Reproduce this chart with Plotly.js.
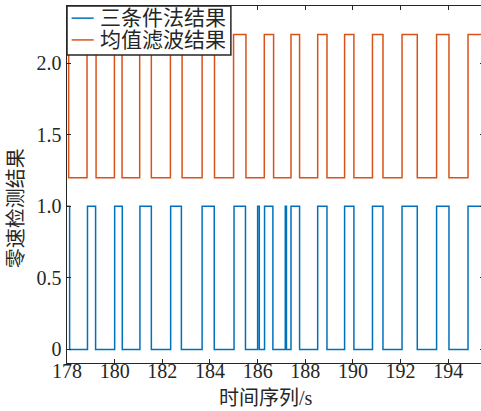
<!DOCTYPE html>
<html><head><meta charset="utf-8">
<script src="https://cdn.plot.ly/plotly-3.0.1.min.js"></script>
<style>html,body{margin:0;padding:0;overflow:hidden;background:#fff}</style>
</head><body><div id="chart" style="width:484px;height:411px"></div>
<script>
const seriesNames = ['三条件法结果', '均值滤波结果'];
const xTitle = '时间序列/s';
const yTitle = '零速检测结果';

const threeCondTime = [178, 178.11, 178.86, 179.20, 180.00, 180.32, 181.06, 181.54, 182.35, 182.80,
  183.67, 184.18, 185.01, 185.49, 186.00, 186.07, 186.29, 186.64, 187.16, 187.21,
  187.40, 187.76, 188.52, 188.91, 189.65, 190.04, 190.82, 191.26, 192.06, 192.70,
  193.51, 194.03, 194.83, 195.5];
const threeCondValue = [1, 0, 1, 0, 1, 0, 1, 0, 1, 0,
  1, 0, 1, 0, 1, 0, 1, 0, 1, 0,
  1, 0, 1, 0, 1, 0, 1, 0, 1, 0,
  1, 0, 1, 1];

const meanFilterTime = [178, 178.07, 178.84, 179.22, 179.99, 180.31, 181.05, 181.54, 182.34, 182.83,
  183.67, 184.19, 184.99, 185.51, 186.28, 186.67, 187.40, 187.76, 188.52, 188.91,
  189.65, 190.04, 190.82, 191.26, 192.06, 192.70, 193.51, 194.03, 194.83, 195.5];
const meanFilterValue = [2.2, 1.2, 2.2, 1.2, 2.2, 1.2, 2.2, 1.2, 2.2, 1.2,
  2.2, 1.2, 2.2, 1.2, 2.2, 1.2, 2.2, 1.2, 2.2, 1.2,
  2.2, 1.2, 2.2, 1.2, 2.2, 1.2, 2.2, 1.2, 2.2, 2.2];

const xTickVals = [178, 180, 182, 184, 186, 188, 190, 192, 194];
const xTickText = ['178', '180', '182', '184', '186', '188', '190', '192', '194'];
const yTickVals = [0, 0.5, 1, 1.5, 2];
const yTickText = ['0', '0.5', '1.0', '1.5', '2.0'];
const seriesColors = ['#0072BD', '#D95319'];

const FONT = 'Liberation Serif, Noto Sans CJK SC, serif';
const AX = '#262626';
const TXT = '#262626';

const traces = [
  {x: threeCondTime, y: threeCondValue, name: seriesNames[0], type: 'scatter', mode: 'lines',
   line: {shape: 'hv', color: seriesColors[0], width: 1.5}},
  {x: meanFilterTime, y: meanFilterValue, name: seriesNames[1], type: 'scatter', mode: 'lines',
   line: {shape: 'hv', color: seriesColors[1], width: 1.5}}
];

// legend drawn as a compact box (paper coordinates)
const legBox = {x0: 0, x1: 0.393, y0: 0.863, y1: 1};
const legRows = [0.966, 0.905];
const legSample = [0.011, 0.064];
const legTextX = 0.074;

const shapes = [
  {type: 'rect', xref: 'paper', yref: 'paper', x0: legBox.x0, x1: legBox.x1, y0: legBox.y0, y1: legBox.y1,
   fillcolor: '#fff', line: {color: AX, width: 1.5}, layer: 'above'}
];
const annotations = [
  {text: xTitle, xref: 'paper', yref: 'paper', x: 0.477, y: -0.097, xanchor: 'center', yanchor: 'middle',
   showarrow: false, font: {family: FONT, size: 20, color: TXT}},
  {text: yTitle, xref: 'paper', yref: 'paper', x: -0.122, y: 0.434, xanchor: 'center', yanchor: 'middle',
   textangle: -90, showarrow: false, font: {family: FONT, size: 20, color: TXT}}
];
seriesNames.forEach((nm, i) => {
  shapes.push({type: 'line', xref: 'paper', yref: 'paper', x0: legSample[0], x1: legSample[1],
    y0: legRows[i], y1: legRows[i], line: {color: seriesColors[i], width: 1.5}, layer: 'above'});
  annotations.push({text: nm, xref: 'paper', yref: 'paper', x: legTextX, y: legRows[i],
    xanchor: 'left', yanchor: 'middle', showarrow: false,
    font: {family: FONT, size: 21, color: TXT}});
});

const layout = {
  width: 484, height: 411,
  margin: {l: 67, r: 0, t: 6, b: 48},
  paper_bgcolor: '#fff', plot_bgcolor: '#fff',
  font: {family: FONT, size: 20, color: TXT},
  showlegend: false,
  xaxis: {range: [178, 195.5], tickmode: 'array', tickvals: xTickVals, ticktext: xTickText,
    ticks: 'inside', ticklen: 4, tickcolor: AX, showline: true, linecolor: AX, linewidth: 1,
    mirror: 'allticks', showgrid: false, zeroline: false, ticklabelstandoff: -10,
    tickfont: {family: FONT, size: 20, color: TXT}},
  yaxis: {range: [-0.095, 2.4], tickmode: 'array', tickvals: yTickVals, ticktext: yTickText,
    ticks: 'inside', ticklen: 4, tickcolor: AX, showline: true, linecolor: AX, linewidth: 1.5,
    mirror: 'allticks', showgrid: false, zeroline: false,
    tickfont: {family: FONT, size: 20, color: TXT}},
  shapes: shapes,
  annotations: annotations
};

Plotly.newPlot('chart', traces, layout, {displayModeBar: false, staticPlot: true});
</script></body></html>
